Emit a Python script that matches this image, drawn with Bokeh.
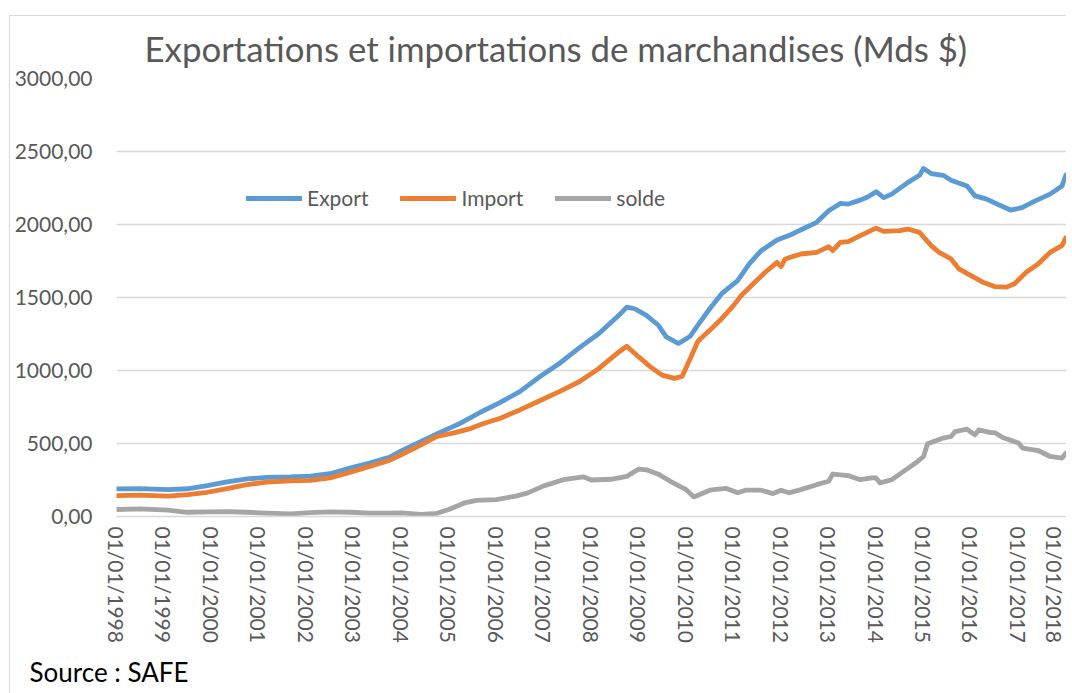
import pandas as pd
from bokeh.plotting import figure
from bokeh.models import (FixedTicker, DatetimeTickFormatter, Range1d, Title,
                          Legend, LegendItem)
from bokeh.embed import file_html
from bokeh.resources import INLINE

# ---------------- data ----------------
title_text = "Exportations et importations de marchandises (Mds $)"
source_text = "Source : SAFE"

export_dates = ["1998-01", "1998-07", "1999-02", "1999-07", "1999-12", "2000-05", "2000-10",
                "2001-03", "2001-09", "2002-02", "2002-07", "2002-12", "2003-05", "2003-10",
                "2004-01", "2004-06", "2004-10", "2005-02", "2005-04", "2005-09", "2006-02",
                "2006-07", "2006-12", "2007-05", "2007-10", "2008-03", "2008-08", "2008-10",
                "2008-12", "2009-03", "2009-06", "2009-08", "2009-11", "2009-12", "2010-02",
                "2010-04", "2010-07", "2010-10", "2011-02", "2011-05", "2011-08", "2011-12",
                "2012-03", "2012-07", "2012-10", "2013-01", "2013-04", "2013-06", "2013-09",
                "2013-11", "2014-01", "2014-03", "2014-05", "2014-09", "2014-12", "2015-01",
                "2015-03", "2015-06", "2015-08", "2015-12", "2016-02", "2016-05", "2016-08",
                "2016-11", "2017-01", "2017-02", "2017-05", "2017-09", "2017-12", "2018-01"]
export_vals = [189, 191, 184, 190, 211, 237, 257,
               268, 271, 277, 293, 332, 366, 405,
               450, 515, 566, 616, 639, 714, 782,
               855, 957, 1048, 1155, 1253, 1378, 1434,
               1423, 1378, 1310, 1230, 1185, 1200, 1235,
               1310, 1423, 1526, 1616, 1730, 1821, 1894,
               1924, 1976, 2015, 2094, 2144, 2140, 2167,
               2190, 2225, 2184, 2208, 2287, 2337, 2383,
               2349, 2337, 2303, 2264, 2196, 2174, 2135,
               2099, 2110, 2117, 2158, 2208, 2264, 2340]

import_dates = ["1998-01", "1998-07", "1999-02", "1999-07", "1999-12", "2000-05", "2000-10",
                "2001-03", "2001-09", "2002-02", "2002-07", "2002-12", "2003-05", "2003-10",
                "2004-01", "2004-06", "2004-10", "2005-02", "2005-06", "2005-10", "2006-02",
                "2006-07", "2006-12", "2007-05", "2007-10", "2008-03", "2008-08", "2008-10",
                "2009-01", "2009-04", "2009-07", "2009-10", "2009-12", "2010-02", "2010-04",
                "2010-07", "2010-10", "2011-01", "2011-03", "2011-06", "2011-09", "2011-12",
                "2012-01", "2012-02", "2012-06", "2012-10", "2013-01", "2013-02", "2013-04",
                "2013-06", "2013-09", "2014-01", "2014-03", "2014-07", "2014-09", "2014-12",
                "2015-03", "2015-05", "2015-08", "2015-10", "2016-01", "2016-04", "2016-07",
                "2016-10", "2016-12", "2017-03", "2017-06", "2017-09", "2017-12", "2018-01"]
import_vals = [143, 146, 139, 150, 166, 191, 218,
               236, 245, 248, 264, 302, 343, 384,
               423, 490, 548, 571, 598, 639, 673,
               730, 793, 855, 923, 1014, 1127, 1166,
               1093, 1025, 968, 946, 960, 1080, 1200,
               1275, 1355, 1446, 1514, 1594, 1673, 1741,
               1712, 1764, 1798, 1809, 1848, 1821, 1877,
               1882, 1924, 1975, 1953, 1958, 1969, 1946,
               1855, 1809, 1764, 1696, 1650, 1605, 1575,
               1571, 1594, 1673, 1730, 1809, 1855, 1910]

solde_dates = ["1998-01", "1998-07", "1999-02", "1999-07", "1999-12", "2000-05", "2000-10",
               "2001-03", "2001-09", "2002-02", "2002-07", "2002-12", "2003-05", "2003-10",
               "2004-01", "2004-06", "2004-10", "2005-01", "2005-05", "2005-08", "2006-01",
               "2006-06", "2006-09", "2007-01", "2007-06", "2007-11", "2008-01", "2008-06",
               "2008-10", "2009-01", "2009-03", "2009-06", "2009-09", "2010-01", "2010-03",
               "2010-07", "2010-11", "2011-02", "2011-04", "2011-08", "2011-11", "2012-01",
               "2012-03", "2012-06", "2012-10", "2013-01", "2013-02", "2013-06", "2013-09",
               "2013-12", "2014-01", "2014-02", "2014-05", "2014-08", "2014-11", "2015-01",
               "2015-02", "2015-03", "2015-06", "2015-08", "2015-09", "2015-12", "2016-02",
               "2016-03", "2016-06", "2016-07", "2016-09", "2017-01", "2017-02", "2017-06",
               "2017-09", "2017-12", "2018-01"]
solde_vals = [48, 52, 43, 29, 32, 34, 29,
              23, 18, 27, 32, 29, 23, 23,
              25, 14, 22, 48, 93, 110, 116,
              140, 162, 210, 252, 272, 250, 255,
              275, 325, 320, 290, 241, 184, 134,
              180, 193, 162, 180, 180, 157, 180,
              162, 184, 218, 241, 291, 280, 252,
              264, 264, 230, 252, 309, 366, 411,
              498, 507, 537, 548, 582, 598, 559,
              593, 575, 575, 541, 503, 469, 452,
              411, 400, 434]

x_tick_years = list(range(1998, 2019))
y_ticks = [0, 500, 1000, 1500, 2000, 2500, 3000]
y_tick_labels = ["0,00", "500,00", "1000,00", "1500,00", "2000,00", "2500,00", "3000,00"]

series_names = ["Export", "Import", "solde"]
series_colors = ["#5B9BD5", "#ED7D31", "#A5A5A5"]

# ---------------- figure ----------------
FONT = "Lato"
TXT = "#595959"

p = figure(frame_width=950, frame_height=438, output_backend="svg", toolbar_location=None,
           x_axis_type="datetime",
           x_range=Range1d(pd.Timestamp("1998-01-01"), pd.Timestamp("2018-01-05")),
           y_range=Range1d(0, 3000),
           min_border_left=116, min_border_right=0, min_border_top=78, min_border_bottom=174)
# thin light-grey chart-area border (top and left edges), drawn behind a transparent canvas
p.styles = {
    "background-image": "linear-gradient(#d9d9d9, #d9d9d9), linear-gradient(#d9d9d9, #d9d9d9)",
    "background-size": "100% 1px, 1px 100%",
    "background-position": "9px 15px, 9px 15px",
    "background-repeat": "no-repeat",
}
p.outline_line_color = None
p.background_fill_color = "white"
p.border_fill_color = None

renderers = []
for name, dates, vals, col in zip(series_names,
                                  [export_dates, import_dates, solde_dates],
                                  [export_vals, import_vals, solde_vals],
                                  series_colors):
    r = p.line(pd.to_datetime(dates, format="%Y-%m"), vals, line_color=col,
               line_width=4.8, line_join="round", line_cap="round")
    renderers.append(r)

# axes
p.yaxis.ticker = FixedTicker(ticks=y_ticks)
p.yaxis.major_label_overrides = dict(zip(y_ticks, y_tick_labels))
p.yaxis.axis_line_color = None
p.yaxis.major_tick_line_color = None
p.yaxis.minor_tick_line_color = None
p.yaxis.major_tick_out = 0
p.yaxis.minor_tick_out = 0
p.yaxis.major_label_text_font = FONT
p.yaxis.major_label_text_font_size = "21px"
p.yaxis.major_label_text_color = TXT
p.yaxis.major_label_standoff = 24

x_ticks = [pd.Timestamp(f"{y}-01-01").value / 1e6 for y in x_tick_years]
p.xaxis.ticker = FixedTicker(ticks=x_ticks)
p.xaxis.formatter = DatetimeTickFormatter(days="%d/%m/%Y", months="%d/%m/%Y",
                                          years="%d/%m/%Y")
p.xaxis.major_label_orientation = "vertical"
p.xaxis.axis_line_color = "#d9d9d9"
p.xaxis.axis_line_width = 1.5
p.xaxis.major_tick_line_color = None
p.xaxis.minor_tick_line_color = None
p.xaxis.major_tick_out = 0
p.xaxis.minor_tick_out = 0
p.xaxis.major_label_text_font = FONT
p.xaxis.major_label_text_font_size = "21px"
p.xaxis.major_label_text_color = TXT
p.xaxis.major_label_standoff = 10

p.xgrid.grid_line_color = None
p.ygrid.ticker = FixedTicker(ticks=y_ticks)
p.ygrid.grid_line_color = "#d9d9d9"
p.ygrid.grid_line_width = 1.5

# legend
legend = Legend(items=[LegendItem(label=n, renderers=[r]) for n, r in zip(series_names, renderers)],
                orientation="horizontal", location=(130, 306),
                glyph_width=56, glyph_height=24, label_height=24, label_standoff=5,
                spacing=32, padding=0, margin=0,
                label_text_font=FONT, label_text_font_size="21px", label_text_color=TXT,
                border_line_color=None, background_fill_alpha=0)
p.add_layout(legend, "center")

# title and source
p.add_layout(Title(text=title_text, align="left", offset=28, standoff=20,
                   text_font=FONT, text_font_size="34.8px", text_font_style="normal",
                   text_color=TXT), "above")
p.add_layout(Title(text=source_text, align="left", offset=-87, standoff=16,
                   text_font=FONT, text_font_size="26px", text_font_style="normal",
                   text_color="#000000"), "below")

open("out.html", "w").write(file_html(p, INLINE))
